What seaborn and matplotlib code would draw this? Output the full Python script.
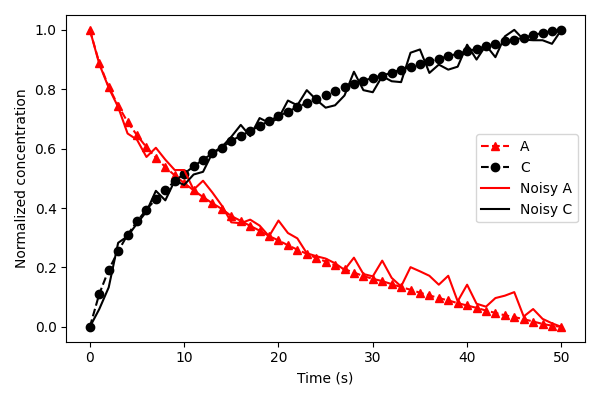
import numpy as np
import matplotlib
matplotlib.use("Agg")
import matplotlib.pyplot as plt
import seaborn as sns

# Time points (s)
time = list(range(51))

# Model curves (normalized)
conc_a = [1.0, 0.889, 0.808, 0.745, 0.690, 0.645, 0.605, 0.570, 0.538, 0.510,
          0.484, 0.460, 0.437, 0.416, 0.397, 0.373, 0.357, 0.340, 0.324, 0.306,
          0.291, 0.275, 0.260, 0.246, 0.232, 0.220, 0.207, 0.194, 0.183, 0.171,
          0.162, 0.154, 0.144, 0.134, 0.125, 0.115, 0.106, 0.097, 0.089, 0.080,
          0.072, 0.064, 0.055, 0.047, 0.039, 0.033, 0.026, 0.018, 0.010, 0.004,
          0.0]
conc_c = [0.0, 0.111, 0.192, 0.255, 0.310, 0.355, 0.395, 0.430, 0.462, 0.490,
          0.516, 0.540, 0.563, 0.584, 0.603, 0.627, 0.643, 0.660, 0.676, 0.694,
          0.709, 0.725, 0.740, 0.754, 0.768, 0.780, 0.793, 0.806, 0.817, 0.829,
          0.838, 0.846, 0.856, 0.866, 0.875, 0.885, 0.894, 0.903, 0.911, 0.920,
          0.928, 0.936, 0.945, 0.953, 0.961, 0.967, 0.974, 0.982, 0.990, 0.996,
          1.0]

# Noisy measurements
noisy_a = [1.0, 0.885, 0.805, 0.740, 0.651, 0.630, 0.572, 0.603, 0.563, 0.528,
           0.528, 0.462, 0.492, 0.452, 0.408, 0.352, 0.349, 0.361, 0.341, 0.305,
           0.358, 0.316, 0.298, 0.248, 0.238, 0.230, 0.214, 0.192, 0.233, 0.178,
           0.170, 0.223, 0.165, 0.136, 0.201, 0.187, 0.172, 0.142, 0.172, 0.086,
           0.142, 0.078, 0.068, 0.097, 0.105, 0.117, 0.035, 0.060, 0.027, 0.012,
           0.0]
noisy_c = [0.0, 0.060, 0.133, 0.283, 0.305, 0.348, 0.388, 0.458, 0.426, 0.492,
           0.478, 0.513, 0.522, 0.586, 0.606, 0.640, 0.680, 0.642, 0.703, 0.687,
           0.702, 0.762, 0.746, 0.797, 0.765, 0.738, 0.746, 0.779, 0.859, 0.797,
           0.790, 0.844, 0.827, 0.824, 0.923, 0.934, 0.855, 0.883, 0.866, 0.876,
           0.950, 0.900, 0.948, 0.908, 0.978, 1.0, 0.967, 0.965, 0.965, 0.953,
           1.0]

fig, ax = plt.subplots(figsize=(6, 4), dpi=100)

sns.lineplot(x=time, y=conc_a, ax=ax, color="red", linestyle="--", marker="^",
             markersize=6, markeredgecolor="red", markeredgewidth=1, label="A")
sns.lineplot(x=time, y=conc_c, ax=ax, color="black", linestyle="--", marker="o",
             markersize=6, markeredgecolor="black", markeredgewidth=1, label="C")
sns.lineplot(x=time, y=noisy_a, ax=ax, color="red", linewidth=1.5, label="Noisy A")
sns.lineplot(x=time, y=noisy_c, ax=ax, color="black", linewidth=1.5, label="Noisy C")

ax.set_xlabel("Time (s)")
ax.set_ylabel("Normalized concentration")
ax.legend(loc="center right")

plt.tight_layout()
plt.savefig("out.png")
